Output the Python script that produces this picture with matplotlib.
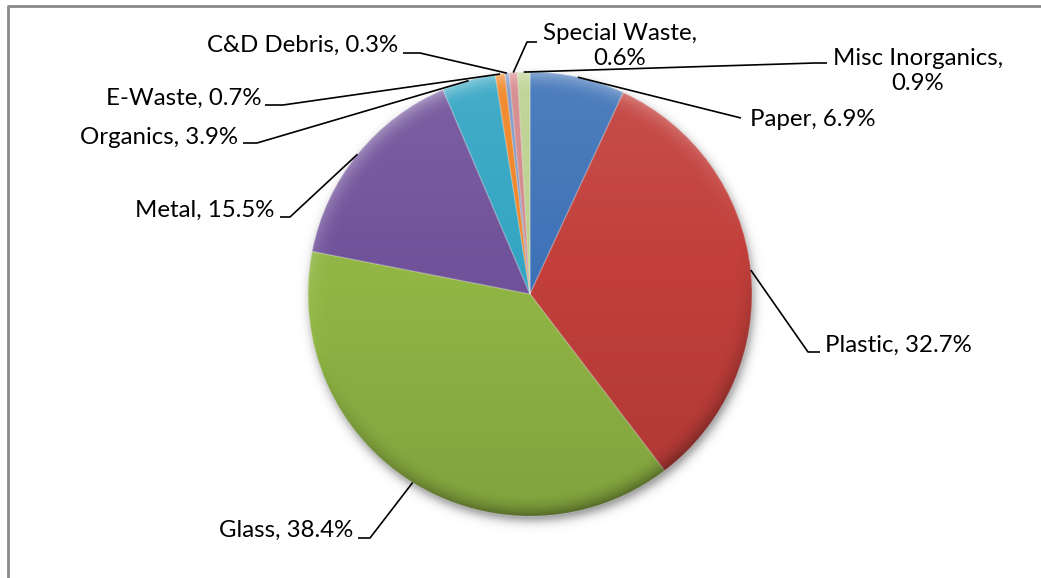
import numpy as np
import matplotlib
matplotlib.use("Agg")
import matplotlib.pyplot as plt
from matplotlib.patches import Circle
from matplotlib.lines import Line2D

# waste composition (percent of total)
categories = ["Paper", "Plastic", "Glass", "Metal", "Organics",
              "E-Waste", "C&D Debris", "Special Waste", "Misc Inorganics"]
shares = [6.9, 32.7, 38.4, 15.5, 3.9, 0.7, 0.3, 0.6, 0.9]

colors = ["#3E72B7", "#C23F3B", "#91B645", "#70529A", "#33A5C3",
          "#F08424", "#7B96C8", "#D4878A", "#BCD190"]

W, H = 1041, 578
plt.rcParams["font.family"] = ["Lato", "DejaVu Sans"]

# label layout in pixel coords: text anchor, alignment, leader elbow, leader end
label_layout = {
    "Paper":           ((750, 120), "left",   (737, 117), (741, 118)),
    "Plastic":         ((825, 345), "left",   (808, 352), (820, 352)),
    "Glass":           ((353, 530), "right",  (370, 538), (358, 538)),
    "Metal":           ((274, 210), "right",  (290, 217), (280, 217)),
    "Organics":        ((238, 137), "right",  (257, 143), (243, 143)),
    "E-Waste":         ((261, 98),  "right",  (283, 105), (265, 105)),
    "C&D Debris":      ((398, 45),  "right",  (420, 53),  (403, 53)),
    "Special Waste":   ((620, 46),  "center", (527, 42),  (537, 42)),
    "Misc Inorganics": ((918, 71),  "center", (815, 63),  (827, 63)),
}
two_line = ["Special Waste", "Misc Inorganics"]

fig = plt.figure(figsize=(W / 100, H / 100), dpi=100)
ax = fig.add_axes([0, 0, 1, 1])

cx, cy, r = 530, 294, 222

# y axis runs downward (pixel style), so counterclock=True with startangle=-90
# starts at 12 o'clock and goes clockwise on screen
wedges, _ = ax.pie(shares, colors=colors, startangle=-90, counterclock=True,
                   radius=r, center=(cx, cy),
                   wedgeprops=dict(edgecolor=(1, 1, 1, 0.22), linewidth=1.0,
                                   zorder=3))

ax.set_xlim(0, W)
ax.set_ylim(H, 0)
ax.set_aspect("equal")
ax.axis("off")

# soft drop shadow under the pie
xs = np.linspace(cx - r - 30, cx + r + 30, 600)
ys = np.linspace(cy - r - 30, cy + r + 30, 600)
gx, gy = np.meshgrid(xs, ys)
d = np.hypot(gx - (cx + 2), gy - (cy + 5))
sh = 0.45 / (1 + np.exp((d - r) / 3.0))
shadow = np.zeros(gx.shape + (4,))
shadow[..., 3] = sh
ax.imshow(shadow, extent=(xs[0], xs[-1], ys[0], ys[-1]), origin="lower",
          zorder=2, interpolation="bilinear")

# bevel-like shading: lighter top, darker bottom, stronger near the rim
xs2 = np.linspace(cx - r, cx + r, 500)
ys2 = np.linspace(cy - r, cy + r, 500)
gx2, gy2 = np.meshgrid(xs2, ys2)
dx, dy = (gx2 - cx) / r, (gy2 - cy) / r
dist = np.hypot(dx, dy)
t = (gy2 - (cy - r)) / (2 * r)
v = 0.10 * (0.45 - t) * 2
rim = np.clip((dist - 0.90) / 0.10, 0, 1) ** 2
v = v + rim * (-dy - 0.3 * dx) * 0.30
shade = np.zeros(gx2.shape + (4,))
shade[..., :3] = np.where(v[..., None] > 0, 1.0, 0.0)
shade[..., 3] = np.clip(np.abs(v), 0, 0.5)
img = ax.imshow(shade, extent=(xs2[0], xs2[-1], ys2[0], ys2[-1]),
                origin="lower", zorder=4, interpolation="bilinear")
clip = Circle((cx, cy), r, transform=ax.transData)
img.set_clip_path(clip)

ax.set_xlim(0, W)
ax.set_ylim(H, 0)

# data labels with leader lines
for w, name, val in zip(wedges, categories, shares):
    (tx, ty), ha, elbow, end = label_layout[name]
    mid = np.deg2rad((w.theta1 + w.theta2) / 2)
    sx, sy = cx + r * np.cos(mid), cy + r * np.sin(mid)
    ax.plot([sx, elbow[0], end[0]], [sy, elbow[1], end[1]],
            color="black", lw=1.2, zorder=5, solid_capstyle="butt")
    sep = ",\n" if name in two_line else ", "
    ax.text(tx, ty, f"{name}{sep}{val}%", ha=ha, va="center",
            multialignment="center", fontsize=17.3, color="black",
            linespacing=1.2, zorder=6)

# chart area border (top and left edges visible)
fig.add_artist(Line2D([1.0, 8 / W, 8 / W], [1 - 6 / H, 1 - 6 / H, 0.0],
                      transform=fig.transFigure, color="#898989", lw=2))

fig.savefig("out.png", dpi=100)
